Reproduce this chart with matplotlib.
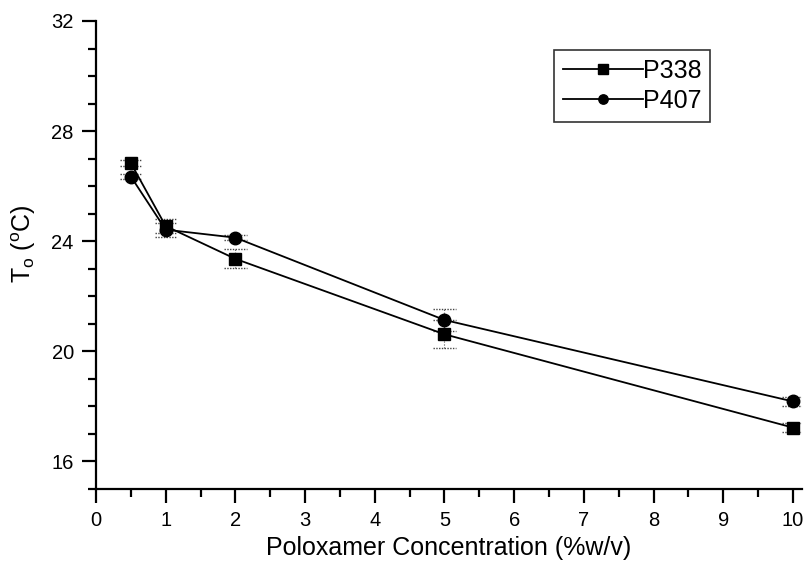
import matplotlib
matplotlib.use("Agg")
import matplotlib.pyplot as plt
from matplotlib.ticker import MultipleLocator

plt.rcParams['font.family'] = ['Liberation Sans', 'DejaVu Sans']

conc = [0.5, 1, 2, 5, 10]
p338 = [26.84, 24.55, 23.36, 20.62, 17.23]
p338_err = [0.12, 0.25, 0.35, 0.51, 0.15]
p407 = [26.35, 24.42, 24.13, 21.14, 18.18]
p407_err = [0.10, 0.25, 0.08, 0.40, 0.15]
xticks = list(range(0, 11))
yticks = [16, 20, 24, 28, 32]

fig = plt.figure(figsize=(8.05, 5.64), dpi=100)
ax = fig.add_axes([96/805, (564-489)/564, 706/805, 468/564])

for y, err, mk, lab in [(p338, p338_err, 's', 'P338'), (p407, p407_err, 'o', 'P407')]:
    ax.plot(conc, y, color='black', lw=1.3, marker=mk, markersize=9,
            markerfacecolor='black', markeredgecolor='black', label=lab, zorder=3)
    eb = ax.errorbar(conc, y, yerr=err, fmt='none', ecolor='#555555',
                     elinewidth=0.8, capsize=0, zorder=2)
    for c in eb[2]:
        c.set_linestyle(':')
    # dotted caps
    for xi, yi, ei in zip(conc, y, err):
        for yy in (yi - ei, yi + ei):
            ax.plot([xi - 0.16, xi + 0.16], [yy, yy], color='#444444', lw=1.0,
                    ls=(0, (1, 1)), zorder=2)

ax.set_xlim(0, 10.13)
ax.set_ylim(15, 32)
ax.set_xticks(xticks)
ax.set_yticks(yticks)
ax.xaxis.set_minor_locator(MultipleLocator(0.5))
ax.yaxis.set_minor_locator(MultipleLocator(1))
ax.spines['top'].set_visible(False)
ax.spines['right'].set_visible(False)
for s in ('left', 'bottom'):
    ax.spines[s].set_linewidth(1.6)
ax.tick_params(which='major', direction='out', length=10, width=1.6, labelsize=14.5, pad=6)
ax.tick_params(which='minor', direction='out', length=6, width=1.6)

ax.set_xlabel('Poloxamer Concentration (%w/v)', fontsize=18)
ax.xaxis.set_label_coords(0.5, (489 - 536) / 468)
ax.set_ylabel(r'T$_\mathregular{o}$ ($^\mathregular{o}$C)', fontsize=18)
ax.yaxis.set_label_coords((38 - 96) / 706, (489 - 244) / 468)

leg = ax.legend(loc='upper right', bbox_to_anchor=((710-96)/706, 1 - (50-21)/468),
                bbox_transform=ax.transAxes, fontsize=18, frameon=True, fancybox=False,
                edgecolor='black', handlelength=3.2, handletextpad=0.0, borderpad=0.35,
                markerscale=0.75, labelspacing=0.25, borderaxespad=0)
leg.get_frame().set_linewidth(1.2)

fig.savefig('out.png', dpi=100)
